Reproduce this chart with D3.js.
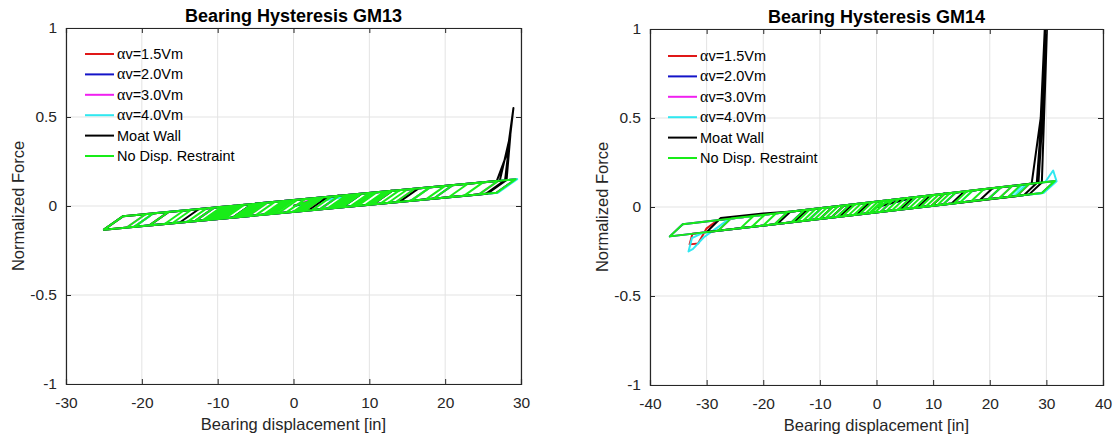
<!DOCTYPE html>
<html>
<head>
<meta charset="utf-8">
<script src="https://cdn.jsdelivr.net/npm/d3@7"></script>
<style>
  body { margin: 0; background: #fff; }
  svg { display: block; }
  text { font-family: "Liberation Sans", Arial, Helvetica, sans-serif; }
</style>
</head>
<body>
<svg id="fig" width="1118" height="439"></svg>
<script>
// ---- axis ticks ----
const yTicks = [-1, -0.5, 0, 0.5, 1];
const xTicksGM13 = [-30, -20, -10, 0, 10, 20, 30];
const xTicksGM14 = [-40, -30, -20, -10, 0, 10, 20, 30, 40];

// ---- legend ----
const legendNames = ["1.5Vm", "2.0Vm", "3.0Vm", "4.0Vm", "Moat Wall", "No Disp. Restraint"];
const legendHasAlpha = [true, true, true, true, false, false];
const seriesColors = ["#e01818", "#1414c8", "#f020f0", "#30e8f0", "#000000", "#18ec18"];

// ---- GM13 hysteresis paths: [displacement (in), normalized force] ----
const gm13Alpha15 = [[0,0],[4,0.049],[1.46,-0.027],[-10,-0.073],[-7.46,0.003],[18,0.105],[15.46,0.029],[-25,-0.133],[-22.46,-0.057],[29.3,0.150],[26.76,0.074],[-13,-0.085],[-10.46,-0.009],[9,0.069]];
const gm13Alpha20 = [[0,0],[6,0.057],[3.46,-0.019],[-13,-0.085],[-10.46,-0.009],[21,0.117],[18.46,0.041],[-21,-0.117],[-18.46,-0.041],[29.3,0.150],[26.76,0.074],[-8,-0.065],[-5.46,0.011],[10,0.073]];
const gm13Alpha30 = [[0,0],[3,0.045],[0.46,-0.031],[-6,-0.057],[-3.46,0.019],[13,0.085],[10.46,0.009],[-19,-0.109],[-16.46,-0.033],[27,0.141],[24.46,0.065],[-22,-0.121],[-19.46,-0.045],[16,0.097],[13.46,0.021],[-4,-0.049]];
const gm13Alpha40 = [[0,0],[9,0.069],[6.46,-0.007],[-21,-0.117],[-18.46,-0.041],[29.5,0.151],[26.96,0.075],[-25,-0.133],[-22.46,-0.057],[18,0.105],[15.46,0.029],[-10,-0.073]];
const gm13Moat = [[0,0],[4.5,0.051],[1.96,-0.025],[-3,-0.045],[-0.46,0.031],[9,0.069],[6.46,-0.007],[-15,-0.093],[-12.46,-0.017],[16.5,0.099],[13.96,0.023],[-19,-0.109],[-16.46,-0.033],[26.8,0.140],[28.2,0.30],[29.0,0.55],[27.9,0.145],[25.36,0.069],[-25,-0.133],[-22.46,-0.057],[27.2,0.142],[28.6,0.40],[28.1,0.146],[25.56,0.069],[-10,-0.073],[-7.46,0.003],[13,0.085],[10.46,0.009],[-8,-0.065],[-5.46,0.011],[6,0.057]];
const gm13Free = [[0,0],[4,0.049],[1.46,-0.027],[-3,-0.045],[-0.46,0.031],[6,0.057],[3.46,-0.019],[-6,-0.057],[-3.46,0.019],[9,0.069],[6.46,-0.007],[-10,-0.073],[-7.46,0.003],[13,0.085],[10.46,0.009],[-13,-0.085],[-10.46,-0.009],[18,0.105],[15.46,0.029],[-19,-0.109],[-16.46,-0.033],[21,0.117],[18.46,0.041],[-21,-0.117],[-18.46,-0.041],[27,0.141],[24.46,0.065],[-25,-0.133],[-22.46,-0.057],[29.3,0.150],[26.76,0.074],[-22,-0.121],[-19.46,-0.045],[16,0.097],[13.46,0.021],[-8,-0.065],[-5.46,0.011],[10,0.073],[7.46,-0.003],[-4,-0.049],[-1.46,0.027],[3,0.045],[0.46,-0.031],[-1,-0.037],[1.54,0.039],[7,0.061],[4.46,-0.015],[-5,-0.053],[-2.46,0.023],[11,0.077],[8.46,0.001],[-7,-0.061],[-4.46,0.015],[14,0.089],[11.46,0.013],[-9,-0.069],[-6.46,0.007],[8,0.065],[5.46,-0.011],[-11,-0.077],[-8.46,-0.001],[12,0.081],[9.46,0.005],[-2,-0.041],[0.54,0.035],[5,0.053],[2.46,-0.023],[-12,-0.081],[-9.46,-0.005],[15,0.093],[12.46,0.017],[-16,-0.097],[-13.46,-0.021],[20,0.113],[17.46,0.037],[-14,-0.089],[-11.46,-0.013],[23,0.125],[20.46,0.049],[-17,-0.101],[-14.46,-0.025],[25,0.133],[22.46,0.057],[-5,-0.053],[-2.46,0.023],[0,0.033],[-2.54,-0.043],[-9.5,-0.071],[-6.96,0.005],[7.5,0.063],[4.96,-0.013],[-6.5,-0.059],[-3.96,0.017],[3.5,0.047],[0.96,-0.029],[-7.5,-0.063],[-4.96,0.013],[10.5,0.075],[7.96,-0.001],[-11.5,-0.079],[-8.96,-0.003],[8.5,0.067],[5.96,-0.009],[-3.5,-0.047],[-0.96,0.029],[12.5,0.083],[9.96,0.007],[-10.5,-0.075],[-7.96,0.001],[2.5,0.043],[-0.04,-0.033],[-0.5,-0.035]];

// ---- GM14 hysteresis paths ----
const gm14Alpha15 = [[0,0],[3,0.0411],[0.72,-0.0273],[-7,-0.0559],[-4.72,0.0125],[12,0.0744],[9.72,0.006],[-29,-0.1373],[-32.5,-0.15],[-33,-0.21],[-31.5,-0.205],[-30,-0.12],[-28,-0.0736],[27,0.1299],[24.72,0.0615],[-12,-0.0744],[-9.72,-0.006],[7,0.0559]];
const gm14Alpha20 = [[0,0],[7,0.0559],[4.72,-0.0125],[-12,-0.0744],[-9.72,-0.006],[22,0.1114],[19.72,0.043],[-36.5,-0.165],[-34.22,-0.0966],[31.5,0.1466],[29.22,0.0782],[-15,-0.0855],[-12.72,-0.0171],[14,0.0818],[11.72,0.0134]];
const gm14Alpha30 = [[0,0],[3,0.0411],[0.72,-0.0273],[-18,-0.0966],[-15.72,-0.0282],[27,0.1299],[24.72,0.0615],[-28,-0.1336],[-25.72,-0.0652],[24,0.1188],[21.72,0.0504],[-8,-0.0596],[-5.72,0.0088],[9,0.0633]];
const gm14Alpha40 = [[0,0],[3,0.0411],[0.72,-0.0273],[-7,-0.0559],[-4.72,0.0125],[17,0.0929],[14.72,0.0245],[-30.5,-0.1429],[-32.6,-0.175],[-33.2,-0.25],[-32.4,-0.235],[-30.5,-0.17],[-28.3,-0.12],[-26,-0.0662],[29.8,0.1403],[31.2,0.205],[31.8,0.145],[29.5,0.0792],[23.5,0.0570],[25.8,0.1255],[26.5,0.128],[24.22,0.0597],[-12,-0.0744],[-9.72,-0.006],[10,0.067]];
const gm14Moat = [[0,0],[6.5,0.0541],[4.22,-0.0144],[-3.5,-0.0430],[-1.22,0.0255],[9.5,0.0652],[7.22,-0.0033],[-6.5,-0.0541],[-4.22,0.0144],[15.5,0.0874],[13.22,0.0190],[-14.5,-0.0837],[-12.22,-0.0153],[20.5,0.1059],[18.22,0.0375],[-17.5,-0.0948],[-15.22,-0.0264],[27.4,0.1314],[29.0,0.5],[30.0,1.2],[29.6,0.7],[28.3,0.1347],[26.02,0.0663],[-30,-0.141],[-27.5,-0.062],[-20,-0.036],[-15,-0.0255],[28.6,0.1358],[29.5,0.6],[30.3,1.2],[29.9,0.8],[29.2,0.138],[26.92,0.0696],[-10,-0.067],[-7.72,0.0014],[12,0.0744],[9.72,0.006],[-8,-0.0596],[-5.72,0.0088],[3,0.0411]];
const gm14Free = [[0,0],[3,0.0411],[0.72,-0.0273],[-3,-0.0411],[-0.72,0.0273],[7,0.0559],[4.72,-0.0125],[-7,-0.0559],[-4.72,0.0125],[12,0.0744],[9.72,0.006],[-12,-0.0744],[-9.72,-0.006],[17,0.0929],[14.72,0.0245],[-18,-0.0966],[-15.72,-0.0282],[22,0.1114],[19.72,0.043],[-24,-0.1188],[-21.72,-0.0504],[27,0.1299],[24.72,0.0615],[-36.5,-0.165],[-34.22,-0.0966],[31.5,0.1466],[29.22,0.0782],[-28,-0.1336],[-25.72,-0.0652],[24,0.1188],[21.72,0.0504],[-15,-0.0855],[-12.72,-0.0171],[14,0.0818],[11.72,0.0134],[-8,-0.0596],[-5.72,0.0088],[9,0.0633],[6.72,-0.0051],[-2,-0.0374],[0.28,0.031],[5,0.0485],[2.72,-0.0199],[-5,-0.0485],[-2.72,0.0199],[10,0.067],[7.72,-0.0014],[-10,-0.067],[-7.72,0.0014],[16,0.0892],[13.72,0.0208],[-13,-0.0781],[-10.72,-0.0097],[19,0.1003],[16.72,0.0319],[-20,-0.104],[-17.72,-0.0356],[25.5,0.1244],[23.22,0.056],[-22,-0.1114],[-19.72,-0.043],[13,0.0781],[10.72,0.0097],[-4,-0.0448],[-1.72,0.0236],[2,0.0374],[-0.28,-0.031],[-9,-0.0633],[-6.72,0.0051],[8,0.0596],[5.72,-0.0088],[-6,-0.0522],[-3.72,0.0162],[4,0.0448],[1.72,-0.0236],[-11,-0.0707],[-8.72,-0.0023],[11,0.0707],[8.72,0.0023],[-1,-0.0337],[1.28,0.0347],[6,0.0522],[3.72,-0.0162],[-14,-0.0818],[-11.72,-0.0134],[1,0.0337],[-1.28,-0.0347]];

const svg = d3.select("#fig");
const axisColor = "#262626";

function drawPanel(p, idx) {
  const x = d3.scaleLinear().domain(p.xDomain).range([p.left, p.right]);
  const y = d3.scaleLinear().domain([-1, 1]).range([p.bottom, p.top]);
  const w = p.right - p.left, h = p.bottom - p.top;
  const g = svg.append("g");

  // grid
  g.append("g").selectAll("line").data(p.xTicks).join("line")
    .attr("x1", d => x(d)).attr("x2", d => x(d))
    .attr("y1", p.top).attr("y2", p.bottom)
    .attr("stroke", "#e3e3e3").attr("stroke-width", 1);
  g.append("g").selectAll("line").data(yTicks).join("line")
    .attr("x1", p.left).attr("x2", p.right)
    .attr("y1", d => y(d)).attr("y2", d => y(d))
    .attr("stroke", "#e3e3e3").attr("stroke-width", 1);

  // hysteresis curves, clipped to the axes box
  const clipId = "clip" + idx;
  svg.append("clipPath").attr("id", clipId).append("rect")
    .attr("x", p.left).attr("y", p.top).attr("width", w).attr("height", h);
  const line = d3.line().x(d => x(d[0])).y(d => y(d[1]));
  const data = g.append("g").attr("clip-path", `url(#${clipId})`);
  p.series.forEach((s, i) => {
    data.append("path").attr("d", line(s))
      .attr("fill", "none").attr("stroke", seriesColors[i])
      .attr("stroke-width", 2).attr("stroke-linejoin", "round");
  });

  // axes: ticks inside, box on
  const fmt = d => String(d);
  const styleAxis = sel => {
    sel.select(".domain").attr("stroke", axisColor).attr("stroke-width", 1.2);
    sel.selectAll(".tick line").attr("stroke", axisColor);
    sel.selectAll("text").attr("fill", axisColor).style("font-size", "15.5px")
      .style("font-family", '"Liberation Sans", Arial, sans-serif');
  };
  g.append("g").attr("transform", `translate(0,${p.bottom})`)
    .call(d3.axisBottom(x).tickValues(p.xTicks).tickSize(-5).tickPadding(13).tickFormat(fmt))
    .call(styleAxis);
  g.append("g").attr("transform", `translate(0,${p.top})`)
    .call(d3.axisTop(x).tickValues(p.xTicks).tickSize(-5).tickFormat(""))
    .call(styleAxis);
  g.append("g").attr("transform", `translate(${p.left},0)`)
    .call(d3.axisLeft(y).tickValues(yTicks).tickSize(-5).tickPadding(9).tickFormat(fmt))
    .call(styleAxis);
  g.append("g").attr("transform", `translate(${p.right},0)`)
    .call(d3.axisRight(y).tickValues(yTicks).tickSize(-5).tickFormat(""))
    .call(styleAxis);

  // title and axis labels
  g.append("text").attr("x", (p.left + p.right) / 2).attr("y", p.top - 6)
    .attr("text-anchor", "middle").attr("font-weight", "bold").attr("font-size", 18)
    .attr("fill", "#000").text(p.title);
  g.append("text").attr("x", (p.left + p.right) / 2).attr("y", p.bottom + 46)
    .attr("text-anchor", "middle").attr("font-size", 16.5).attr("fill", axisColor)
    .text("Bearing displacement [in]");
  g.append("text")
    .attr("transform", `translate(${p.left - 42},${(p.top + p.bottom) / 2}) rotate(-90)`)
    .attr("text-anchor", "middle").attr("font-size", 16.5).attr("fill", axisColor)
    .text("Normalized Force");

  // legend (no box)
  const leg = g.append("g");
  legendNames.forEach((name, i) => {
    const ly = p.legendTop + i * 20.4;
    leg.append("line").attr("x1", p.legendX).attr("x2", p.legendX + 29)
      .attr("y1", ly).attr("y2", ly)
      .attr("stroke", seriesColors[i]).attr("stroke-width", 2);
    const t = leg.append("text").attr("x", p.legendX + 32).attr("y", ly + 5)
      .attr("font-size", 14.5).attr("fill", "#000");
    if (legendHasAlpha[i]) {
      t.append("tspan").style("font-family", '"Liberation Serif", "DejaVu Serif", serif')
        .attr("font-size", 16).text("\u03b1");
      t.append("tspan").text("v=" + name);
    } else {
      t.text(name);
    }
  });
}

const panels = [
  { title: "Bearing Hysteresis GM13", xDomain: [-30, 30], xTicks: xTicksGM13,
    left: 66, right: 521, top: 28, bottom: 384, legendX: 85, legendTop: 54,
    series: [gm13Alpha15, gm13Alpha20, gm13Alpha30, gm13Alpha40, gm13Moat, gm13Free] },
  { title: "Bearing Hysteresis GM14", xDomain: [-40, 40], xTicks: xTicksGM14,
    left: 650, right: 1103, top: 29, bottom: 385, legendX: 668, legendTop: 56,
    series: [gm14Alpha15, gm14Alpha20, gm14Alpha30, gm14Alpha40, gm14Moat, gm14Free] }
];
panels.forEach(drawPanel);
</script>
</body>
</html>
